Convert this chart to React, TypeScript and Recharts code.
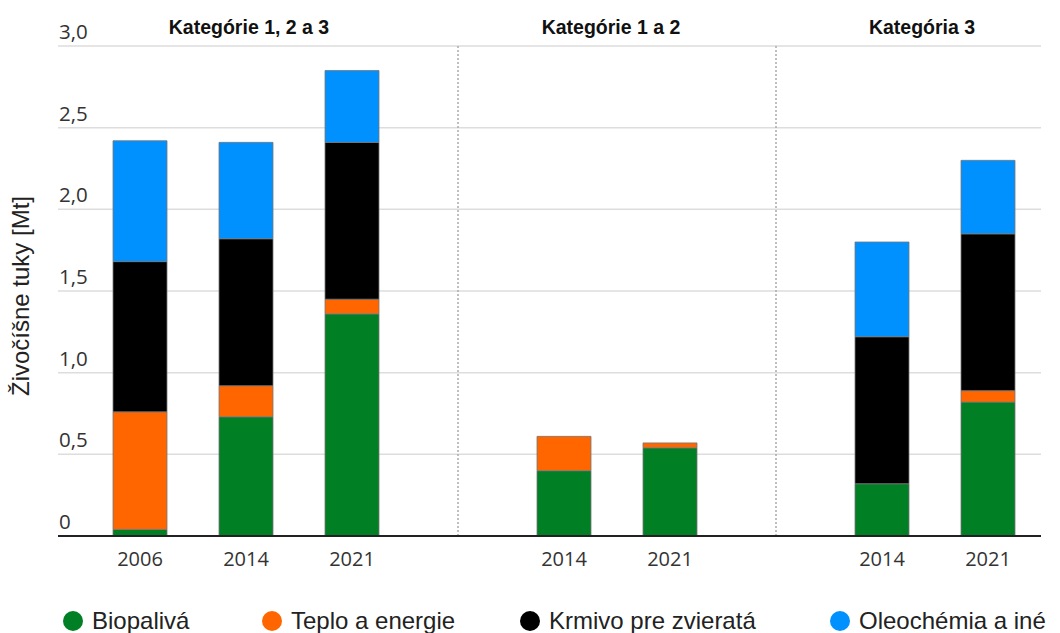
import { BarChart, Bar, XAxis, YAxis, CartesianGrid, ReferenceLine } from 'recharts';

document.body.style.margin = '0';

const slotIds = ['a2006', 'a2014', 'a2021', 'sep1', 'b2014', 'b2021', 'sep2', 'c2014', 'c2021'];
const slotLabels = ['2006', '2014', '2021', '', '2014', '2021', '', '2014', '2021'];

const biopaliva = [0.04, 0.73, 1.36, null, 0.40, 0.54, null, 0.32, 0.82];
const teplo = [0.72, 0.19, 0.09, null, 0.21, 0.03, null, null, 0.07];
const krmivo = [0.92, 0.90, 0.96, null, null, null, null, 0.90, 0.96];
const oleochemia = [0.74, 0.59, 0.44, null, null, null, null, 0.58, 0.45];

const yTicks = [0, 0.5, 1, 1.5, 2, 2.5, 3];

const groupTitles = ['Kategórie 1, 2 a 3', 'Kategórie 1 a 2', 'Kategória 3'];
const groupTitleX = [249, 611, 922];

const series = [
  { key: 'bio', name: 'Biopalivá', color: '#017f25' },
  { key: 'teplo', name: 'Teplo a energie', color: '#ff6600' },
  { key: 'krmivo', name: 'Krmivo pre zvieratá', color: '#000000' },
  { key: 'oleo', name: 'Oleochémia a iné', color: '#0091ff' },
];
const legendLeft = [63, 262, 520, 830];

const data = slotIds.map((id, i) => ({
  id,
  bio: biopaliva[i],
  teplo: teplo[i],
  krmivo: krmivo[i],
  oleo: oleochemia[i],
}));

const fmt = (v: number) => (v === 0 ? '0' : v.toFixed(1).replace('.', ','));

const YTick = (props: any) => {
  const { y, payload } = props;
  return (
    <text x={59} y={y - 7} fontSize={20.5} fill="#333" fontFamily="'Open Sans', sans-serif">
      {fmt(payload.value)}
    </text>
  );
};

const XTick = (props: any) => {
  const { x, index } = props;
  return (
    <text x={x} y={566} textAnchor="middle" fontSize={20} fill="#333" fontFamily="'Open Sans', sans-serif">
      {slotLabels[index]}
    </text>
  );
};

export default function App() {
  return (
    <div style={{ position: 'relative', width: 1060, height: 633, background: '#fff', overflow: 'hidden' }}>
      <BarChart
        width={1060}
        height={590}
        data={data}
        margin={{ top: 46, right: 19, left: 28, bottom: 24 }}
        barSize={54}
      >
        <CartesianGrid vertical={false} stroke="#dddddd" strokeWidth={1.5} />
        <XAxis
          dataKey="id"
          padding={{ left: 29, right: 0 }}
          height={30}
          axisLine={{ stroke: '#222', strokeWidth: 2 }}
          tickLine={false}
          tick={<XTick />}
          interval={0}
        />
        <YAxis
          width={30}
          domain={[0, 3]}
          ticks={yTicks}
          interval={0}
          axisLine={false}
          tickLine={false}
          tick={<YTick />}
        />
        <ReferenceLine x="sep1" stroke="#aaaaaa" strokeWidth={1.5} strokeDasharray="2 2" />
        <ReferenceLine x="sep2" stroke="#aaaaaa" strokeWidth={1.5} strokeDasharray="2 2" />
        {series.map((s) => (
          <Bar
            key={s.key}
            dataKey={s.key}
            name={s.name}
            stackId="a"
            fill={s.color}
            stroke="#777"
            strokeWidth={0.8}
            isAnimationActive={false}
          />
        ))}
      </BarChart>

      <svg width={1060} height={633} style={{ position: 'absolute', left: 0, top: 0, pointerEvents: 'none' }}>
        {groupTitles.map((t, i) => (
          <text
            key={t}
            x={groupTitleX[i]}
            y={34}
            textAnchor="middle"
            fontSize={19.5}
            fontWeight="bold"
            fill="#111"
            fontFamily="'Liberation Sans', Arial, sans-serif"
          >
            {t}
          </text>
        ))}
        <text
          transform="translate(29, 296) rotate(-90)"
          textAnchor="middle"
          fontSize={24}
          fill="#222"
          fontFamily="'Liberation Sans', Arial, sans-serif"
        >
          Živočíšne tuky [Mt]
        </text>
        {series.map((s, i) => (
          <g key={s.key}>
            <circle cx={legendLeft[i] + 10} cy={621} r={10} fill={s.color} />
            <text
              x={legendLeft[i] + 29}
              y={629}
              fontSize={24}
              fill="#222"
              fontFamily="'Liberation Sans', Arial, sans-serif"
            >
              {s.name}
            </text>
          </g>
        ))}
      </svg>
    </div>
  );
}
